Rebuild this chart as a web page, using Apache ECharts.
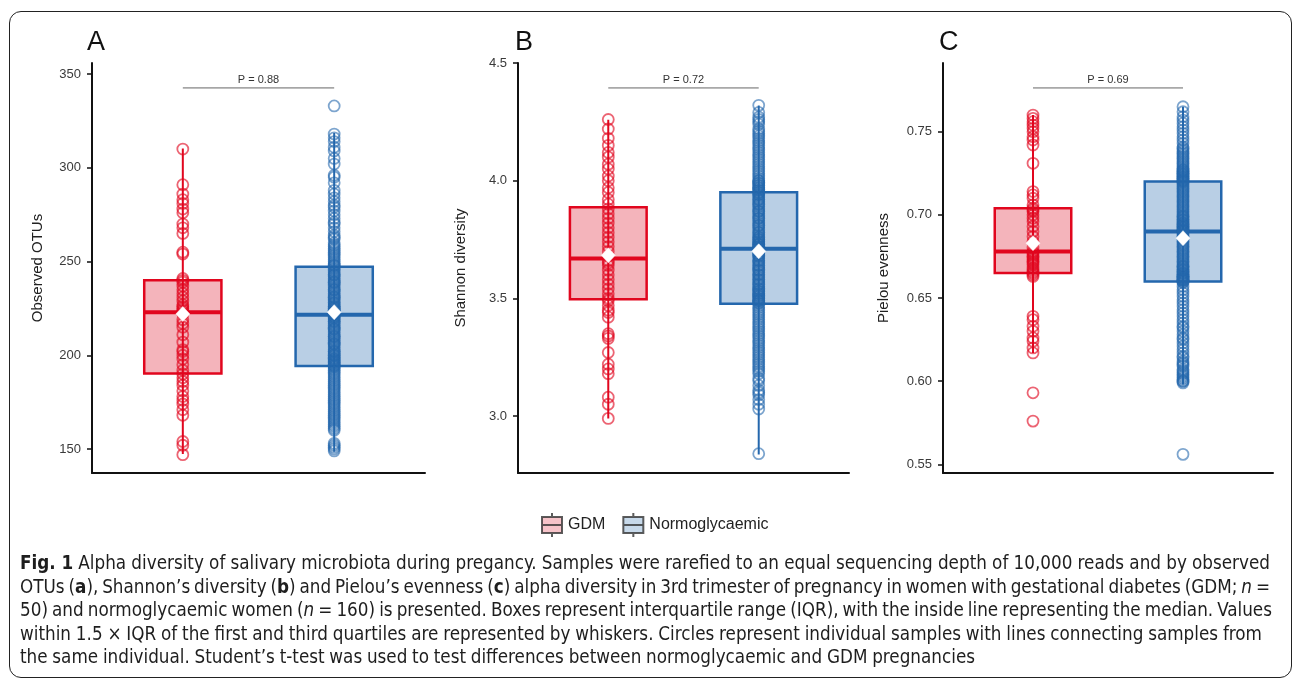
<!DOCTYPE html>
<html>
<head>
<meta charset="utf-8">
<script src="https://cdn.jsdelivr.net/npm/echarts@6/dist/echarts.min.js"></script>
<style>
  html, body { margin: 0; padding: 0; background: #fff; }
  #wrap { position: relative; width: 1295px; height: 681px; overflow: hidden; }
  #chart { position: absolute; left: 0; top: 0; width: 1295px; height: 681px; }
  #frame { position: absolute; left: 9px; top: 11px; width: 1283px; height: 667px; box-sizing: border-box;
           border: 1.5px solid #222; border-radius: 12px; pointer-events: none; }
  #cap { position: absolute; left: 20px; top: 551px; color: #1e1e1e;
         font-family: 'Liberation Sans Narrow', 'DejaVu Sans Condensed', 'Liberation Sans', sans-serif;
         font-stretch: condensed;
         font-size: 18.7px; line-height: 23.5px; pointer-events: none; }
  #cap .ln { white-space: nowrap; }
  #cap .ln span { display: inline-block; }
</style>
</head>
<body>
<div id="wrap">
  <div id="chart"></div>
  <div id="frame"></div>
  <div id="cap">
    <div class="ln" data-w="1250"><span><b>Fig. 1</b> Alpha diversity of salivary microbiota during pregancy. Samples were rarefied to an equal sequencing depth of 10,000 reads and by observed</span></div>
    <div class="ln" data-w="1250"><span>OTUs (<b>a</b>), Shannon’s diversity (<b>b</b>) and Pielou’s evenness (<b>c</b>) alpha diversity in 3rd trimester of pregnancy in women with gestational diabetes (GDM; <i>n</i> =</span></div>
    <div class="ln" data-w="1252"><span>50) and normoglycaemic women (<i>n</i> = 160) is presented. Boxes represent interquartile range (IQR), with the inside line representing the median. Values</span></div>
    <div class="ln" data-w="1242"><span>within 1.5 × IQR of the first and third quartiles are represented by whiskers. Circles represent individual samples with lines connecting samples from</span></div>
    <div class="ln" data-w="955"><span>the same individual. Student’s t-test was used to test differences between normoglycaemic and GDM pregnancies</span></div>
  </div>
</div>
<script>
// ---------------- data ----------------
const categories = ['GDM', 'Normoglycaemic'];
const panelLabels = ['A', 'B', 'C'];
const yTitles = ['Observed OTUs', 'Shannon diversity', 'Pielou evenness'];
const pLabels = ['P = 0.88', 'P = 0.72', 'P = 0.69'];
const pLevels = [342.6, 4.394, 0.7763];

const yMins = [137.2, 2.758, 0.5448];
const yMaxs = [355.9, 4.5, 0.7913];
const yTicks = [[150, 200, 250, 300, 350], [3.0, 3.5, 4.0, 4.5], [0.55, 0.60, 0.65, 0.70, 0.75]];
const tickDecimals = [0, 1, 2];

// box stats: [whisker low, Q1, median, Q3, whisker high]
const otuBox = [[147.3, 190.3, 223.0, 240.0, 310.3], [148.6, 194.3, 221.6, 247.2, 318.6]];
const shannonBox = [[2.99, 3.496, 3.669, 3.887, 4.259], [2.837, 3.477, 3.711, 3.951, 4.319]];
const pielouBox = [[0.617, 0.665, 0.678, 0.704, 0.760], [0.598, 0.660, 0.690, 0.720, 0.765]];
const otuMean = [222.0, 223.0];
const shannonMean = [3.683, 3.700];
const pielouMean = [0.683, 0.686];

const otuGDM = [310, 291, 286, 283, 281, 278, 276, 270, 268, 265,
  255, 254, 241, 240, 239, 237, 235, 233, 231, 229,
  227, 226, 225, 224, 223, 222, 219, 217, 215, 211,
  207, 203, 202, 200, 198, 195, 192, 190, 188, 186,
  184, 181, 178, 176, 174, 171, 168, 154, 152, 147];
const otuNormo = [333, 318, 316, 314, 311, 309, 305, 302, 296, 295, 292,
  288, 286, 284, 282, 280, 279, 277, 275, 273, 271,
  270, 268, 266, 264, 263, 262, 260, 259, 258, 257,
  256, 255, 254, 253, 252, 251, 250, 249, 248, 248,
  247, 246, 245, 244, 243, 243, 242, 241, 240, 239,
  239, 238, 237, 236, 235, 235, 234, 233, 232, 231,
  231, 230, 229, 228, 228, 227, 226, 226, 225, 225,
  224, 224, 223, 223, 223, 222, 222, 222, 222, 221,
  221, 220, 220, 219, 218, 218, 217, 216, 215, 214,
  214, 213, 212, 211, 210, 210, 209, 208, 207, 206,
  206, 205, 204, 203, 202, 202, 201, 200, 200, 199,
  198, 198, 197, 197, 196, 196, 195, 195, 194, 194,
  193, 192, 191, 190, 189, 188, 187, 186, 185, 184,
  183, 182, 181, 180, 179, 178, 177, 176, 175, 174,
  173, 172, 171, 170, 169, 168, 167, 166, 165, 164,
  163, 162, 161, 160, 153, 152, 151, 150, 149];

const shannonGDM = [4.26, 4.22, 4.18, 4.15, 4.12, 4.10, 4.07, 4.05, 4.02, 4.00,
  3.97, 3.95, 3.92, 3.90, 3.88, 3.86, 3.84, 3.82, 3.80, 3.78,
  3.76, 3.74, 3.72, 3.70, 3.68, 3.66, 3.65, 3.64, 3.62, 3.60,
  3.58, 3.56, 3.54, 3.52, 3.50, 3.49, 3.47, 3.45, 3.44, 3.42,
  3.35, 3.34, 3.33, 3.27, 3.22, 3.20, 3.18, 3.08, 3.05, 2.99];
const shannonNormo = [4.32, 4.29, 4.27, 4.26, 4.25, 4.24, 4.22, 4.21, 4.20, 4.19,
  4.18, 4.17, 4.16, 4.15, 4.14, 4.13, 4.12, 4.11, 4.10, 4.09,
  4.08, 4.07, 4.06, 4.05, 4.04, 4.03, 4.02, 4.01, 4.00, 4.00,
  3.99, 3.99, 3.98, 3.98, 3.97, 3.97, 3.96, 3.96, 3.95, 3.95,
  3.94, 3.94, 3.93, 3.92, 3.92, 3.91, 3.90, 3.90, 3.89, 3.88,
  3.87, 3.87, 3.86, 3.85, 3.84, 3.84, 3.83, 3.82, 3.81, 3.81,
  3.80, 3.79, 3.78, 3.78, 3.77, 3.76, 3.76, 3.75, 3.75, 3.74,
  3.74, 3.73, 3.73, 3.73, 3.72, 3.72, 3.72, 3.71, 3.71, 3.71,
  3.70, 3.70, 3.69, 3.69, 3.68, 3.68, 3.67, 3.66, 3.66, 3.65,
  3.64, 3.64, 3.63, 3.62, 3.62, 3.61, 3.60, 3.60, 3.59, 3.58,
  3.58, 3.57, 3.56, 3.56, 3.55, 3.54, 3.54, 3.53, 3.53, 3.52,
  3.52, 3.51, 3.51, 3.50, 3.50, 3.49, 3.49, 3.49, 3.48, 3.48,
  3.47, 3.46, 3.45, 3.44, 3.43, 3.42, 3.41, 3.40, 3.39, 3.38,
  3.37, 3.36, 3.35, 3.34, 3.33, 3.32, 3.31, 3.30, 3.29, 3.28,
  3.27, 3.26, 3.25, 3.24, 3.23, 3.22, 3.21, 3.20, 3.19, 3.18,
  3.16, 3.15, 3.13, 3.11, 3.10, 3.09, 3.07, 3.05, 3.03, 2.84];

const pielouGDM = [0.760, 0.758, 0.756, 0.754, 0.752, 0.750, 0.747, 0.745, 0.742, 0.731,
  0.714, 0.712, 0.710, 0.706, 0.704, 0.703, 0.702, 0.700, 0.698, 0.696,
  0.693, 0.690, 0.687, 0.684, 0.680, 0.678, 0.677, 0.676, 0.675, 0.674,
  0.673, 0.672, 0.671, 0.670, 0.668, 0.667, 0.666, 0.665, 0.664, 0.663,
  0.639, 0.637, 0.633, 0.630, 0.626, 0.624, 0.620, 0.617, 0.593, 0.576];
const pielouNormo = [0.765, 0.762, 0.759, 0.757, 0.755, 0.753, 0.751, 0.749, 0.747, 0.745,
  0.743, 0.741, 0.740, 0.739, 0.738, 0.737, 0.736, 0.735, 0.734, 0.733,
  0.732, 0.731, 0.730, 0.729, 0.728, 0.727, 0.727, 0.726, 0.726, 0.725,
  0.725, 0.724, 0.724, 0.723, 0.723, 0.722, 0.722, 0.721, 0.721, 0.720,
  0.720, 0.719, 0.718, 0.717, 0.716, 0.715, 0.714, 0.713, 0.712, 0.711,
  0.710, 0.709, 0.708, 0.707, 0.706, 0.705, 0.704, 0.703, 0.702, 0.701,
  0.700, 0.699, 0.699, 0.698, 0.697, 0.697, 0.696, 0.695, 0.695, 0.694,
  0.694, 0.693, 0.693, 0.692, 0.692, 0.691, 0.691, 0.690, 0.690, 0.690,
  0.689, 0.688, 0.687, 0.686, 0.685, 0.684, 0.683, 0.682, 0.681, 0.680,
  0.679, 0.678, 0.677, 0.676, 0.675, 0.674, 0.673, 0.672, 0.671, 0.670,
  0.669, 0.669, 0.668, 0.667, 0.667, 0.666, 0.665, 0.665, 0.664, 0.664,
  0.663, 0.663, 0.662, 0.662, 0.662, 0.661, 0.661, 0.661, 0.660, 0.660,
  0.659, 0.657, 0.655, 0.653, 0.651, 0.649, 0.647, 0.645, 0.643, 0.641,
  0.639, 0.637, 0.635, 0.633, 0.632, 0.630, 0.628, 0.626, 0.625, 0.623,
  0.621, 0.619, 0.617, 0.615, 0.614, 0.612, 0.611, 0.610, 0.609, 0.607,
  0.606, 0.605, 0.604, 0.603, 0.602, 0.601, 0.600, 0.600, 0.599, 0.556];

// ---------------- styles ----------------
const FONT = "'Liberation Sans', Arial, Helvetica, sans-serif";
const strokeCol = ['#E1061E', '#2467AD'];
const fillCol = ['#F4B4BB', '#B9CFE5'];
const pointCol = ['rgba(225,6,30,0.78)', 'rgba(36,103,173,0.74)'];
const boxWidthUnits = 0.51;

const panelPoints = [[otuGDM, otuNormo], [shannonGDM, shannonNormo], [pielouGDM, pielouNormo]];
const panelBoxes = [otuBox, shannonBox, pielouBox];
const panelMeans = [otuMean, shannonMean, pielouMean];

const grids = [
  { left: 92, top: 63, width: 333, height: 410 },
  { left: 518, top: 63, width: 331, height: 410 },
  { left: 943, top: 63, width: 330, height: 410 }
];
const titleLeft = [82, 510, 934];
const nameGaps = [47, 50, 52];

const chart = echarts.init(document.getElementById('chart'), null, { renderer: 'canvas' });

const xAxis = grids.map((g, i) => ({
  type: 'value', gridIndex: i, min: 0.4, max: 2.6,
  axisLine: { show: true, onZero: false, lineStyle: { color: '#111', width: 2 } },
  axisTick: { show: false }, axisLabel: { show: false }, splitLine: { show: false }
}));
const yAxis = grids.map((g, i) => ({
  type: 'value', gridIndex: i, min: yMins[i], max: yMaxs[i],
  name: yTitles[i], nameLocation: 'middle', nameGap: nameGaps[i],
  nameTextStyle: { fontSize: 15, color: '#222', fontFamily: FONT },
  axisLine: { show: true, onZero: false, lineStyle: { color: '#111', width: 2 } },
  axisTick: { show: true, length: 5, lineStyle: { color: '#111', width: 1.5 }, customValues: yTicks[i] },
  axisLabel: { show: true, customValues: yTicks[i], margin: 11, fontSize: 13, color: '#3a3a3a', fontFamily: FONT,
               formatter: v => Number(v).toFixed(tickDecimals[i]) },
  splitLine: { show: false }
}));

const series = [];
for (let i = 0; i < 3; i++) {
  // boxes + whiskers
  series.push({
    type: 'custom', name: 'box' + i, xAxisIndex: i, yAxisIndex: i, z: 2, silent: true,
    data: panelBoxes[i].map((b, g) => [g + 1].concat(b)),
    encode: { x: 0, y: [1, 2, 3, 4, 5] },
    renderItem: function (params, api) {
      const g = params.dataIndex;
      const x = api.value(0);
      const lo = api.coord([x, api.value(1)]);
      const q1 = api.coord([x, api.value(2)]);
      const md = api.coord([x, api.value(3)]);
      const q3 = api.coord([x, api.value(4)]);
      const hi = api.coord([x, api.value(5)]);
      const half = api.size([boxWidthUnits, 0])[0] / 2;
      return {
        type: 'group',
        children: [
          { type: 'rect', shape: { x: q1[0] - half, y: q3[1], width: half * 2, height: q1[1] - q3[1] },
            style: { fill: fillCol[g], stroke: strokeCol[g], lineWidth: 2.5 } },
          { type: 'line', shape: { x1: lo[0], y1: lo[1], x2: hi[0], y2: hi[1] },
            style: { stroke: strokeCol[g], lineWidth: 2 } },
          { type: 'line', shape: { x1: md[0] - half, y1: md[1], x2: md[0] + half, y2: md[1] },
            style: { stroke: strokeCol[g], lineWidth: 4 } }
        ]
      };
    }
  });
  // points
  for (let g = 0; g < 2; g++) {
    series.push({
      type: 'scatter', name: categories[g], xAxisIndex: i, yAxisIndex: i, z: 3, silent: true,
      symbol: 'circle', symbolSize: 11,
      itemStyle: { color: 'rgba(255,255,255,0)', borderColor: pointCol[g], borderWidth: 1.8 },
      data: panelPoints[i][g].map(v => [g + 1, v])
    });
  }
  // means
  series.push({
    type: 'scatter', name: 'mean' + i, xAxisIndex: i, yAxisIndex: i, z: 10, silent: true,
    symbol: 'diamond', symbolSize: [14, 15],
    itemStyle: { color: '#ffffff', borderColor: '#ffffff', borderWidth: 0.5, opacity: 1 },
    data: panelMeans[i].map((m, g) => [g + 1, m])
  });
  // p-value bracket
  series.push({
    type: 'custom', name: 'p' + i, xAxisIndex: i, yAxisIndex: i, z: 4, silent: true,
    data: [[1, 2, pLevels[i]]],
    encode: { x: [0, 1], y: 2 },
    renderItem: function (params, api) {
      const a = api.coord([api.value(0), api.value(2)]);
      const b = api.coord([api.value(1), api.value(2)]);
      return {
        type: 'group',
        children: [
          { type: 'line', shape: { x1: a[0], y1: a[1], x2: b[0], y2: b[1] },
            style: { stroke: '#666', lineWidth: 1 } },
          { type: 'text', x: (a[0] + b[0]) / 2, y: a[1] - 2,
            style: { text: pLabels[i], fill: '#333', fontSize: 11, fontFamily: FONT,
                     align: 'center', verticalAlign: 'bottom' } }
        ]
      };
    }
  });
}

const legendIcon = 'path://M1,4 L21,4 L21,20 L1,20 Z M1,12 L21,12 M11,0 L11,4 M11,20 L11,24';

chart.setOption({
  animation: false,
  backgroundColor: '#ffffff',
  title: panelLabels.map((t, i) => ({
    text: t, left: titleLeft[i], top: 24,
    textStyle: { fontSize: 27, fontWeight: 'normal', color: '#111', fontFamily: FONT }
  })),
  grid: grids,
  xAxis: xAxis,
  yAxis: yAxis,
  legend: {
    data: categories.map((c, g) => ({ name: c, icon: legendIcon,
      itemStyle: { color: fillCol[g], borderColor: '#333', borderWidth: 2 } })),
    left: 536, top: 507, itemWidth: 22, itemHeight: 24, itemGap: 17,
    selectedMode: false,
    textStyle: { fontSize: 16, color: '#222', fontFamily: FONT }
  },
  series: series
});

// fit caption lines to the reference widths by adjusting word spacing
document.querySelectorAll('#cap .ln').forEach(ln => {
  const span = ln.querySelector('span');
  const target = parseFloat(ln.getAttribute('data-w'));
  const w = span.getBoundingClientRect().width;
  const spaces = (span.textContent.match(/ /g) || []).length;
  if (spaces > 0) span.style.wordSpacing = ((target - w) / spaces) + 'px';
});
</script>
</body>
</html>
